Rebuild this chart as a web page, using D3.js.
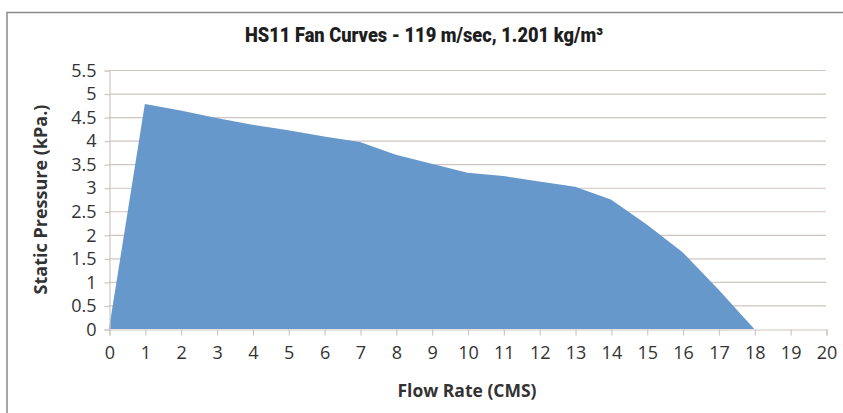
<!DOCTYPE html>
<html>
<head>
<meta charset="utf-8">
<script src="https://cdn.jsdelivr.net/npm/d3@7"></script>
<style>
  html, body { margin: 0; padding: 0; background: #ffffff; }
  svg { display: block; }
</style>
</head>
<body>
<svg id="chart" width="843" height="413"></svg>
<script>
const flowRate = [0, 1, 2, 3, 4, 5, 6, 7, 8, 9, 10, 11, 12, 13, 14, 15, 16, 17, 18];
const staticPressure = [0, 4.78, 4.64, 4.48, 4.34, 4.22, 4.09, 3.97, 3.70, 3.51, 3.32, 3.25, 3.13, 3.02, 2.75, 2.22, 1.63, 0.84, 0];
const xTicks = d3.range(0, 21, 1);
const yTicks = [0, 0.5, 1, 1.5, 2, 2.5, 3, 3.5, 4, 4.5, 5, 5.5];
const titleText = "HS11 Fan Curves - 119 m/sec, 1.201 kg/m³";
const xTitle = "Flow Rate (CMS)";
const yTitle = "Static Pressure (kPa.)";

const svg = d3.select("#chart");
const W = 843, H = 413;

// outer border
svg.append("rect")
  .attr("x", 7).attr("y", 12.5)
  .attr("width", W + 10).attr("height", H + 10)
  .attr("fill", "#ffffff")
  .attr("stroke", "#8a8a8a").attr("stroke-width", 1.5);

const x = d3.scaleLinear().domain([0, 20]).range([109, 826]);
const y = d3.scaleLinear().domain([0, 5.5]).range([329, 70]);

const gridColor = "#cfc6c2";

// gridlines
svg.append("g")
  .selectAll("line")
  .data(yTicks.filter(d => d > 0))
  .join("line")
  .attr("x1", x(0)).attr("x2", x(20))
  .attr("y1", d => y(d) + 0.5).attr("y2", d => y(d) + 0.5)
  .attr("stroke", gridColor).attr("stroke-width", 1.2);

// area
const area = d3.area()
  .x((d, i) => x(flowRate[i]))
  .y0(y(0))
  .y1((d, i) => y(staticPressure[i]));
svg.append("path")
  .datum(staticPressure)
  .attr("d", area)
  .attr("fill", "#6798cc");

const tickFont = "'Open Sans', 'DejaVu Sans', sans-serif";

// y axis
const yAxis = d3.axisLeft(y).tickValues(yTicks).tickSize(5).tickPadding(8)
  .tickFormat(d => String(d));
const gy = svg.append("g").attr("transform", `translate(${x(0) + 0.5},0.5)`).call(yAxis);
gy.select(".domain").attr("stroke", gridColor).attr("stroke-width", 1.2);
gy.selectAll(".tick line").attr("stroke", gridColor).attr("stroke-width", 1.2);
gy.selectAll(".tick text")
  .attr("font-family", tickFont).attr("font-size", 18).attr("fill", "#333333");

// x axis
const xAxis = d3.axisBottom(x).tickValues(xTicks).tickSize(6).tickPadding(11)
  .tickFormat(d => String(d));
const gx = svg.append("g").attr("transform", `translate(0.5,${y(0) + 0.5})`).call(xAxis);
gx.select(".domain").attr("stroke", gridColor).attr("stroke-width", 1.2);
gx.selectAll(".tick line").attr("stroke", gridColor).attr("stroke-width", 1.2);
gx.selectAll(".tick text")
  .attr("font-family", tickFont).attr("font-size", 18).attr("fill", "#333333");

// title
svg.append("text")
  .attr("x", 424).attr("y", 42)
  .attr("text-anchor", "middle")
  .attr("font-family", "Roboto, 'Liberation Sans', sans-serif")
  .attr("font-weight", 900)
  .attr("font-size", 20)
  .attr("fill", "#1e1e1e")
  .attr("textLength", 358)
  .attr("lengthAdjust", "spacingAndGlyphs")
  .text(titleText);

// axis titles
svg.append("text")
  .attr("x", 467).attr("y", 397)
  .attr("text-anchor", "middle")
  .attr("font-family", tickFont)
  .attr("font-weight", "bold")
  .attr("font-size", 17.5)
  .attr("fill", "#333333")
  .text(xTitle);

svg.append("text")
  .attr("transform", `translate(47,${(y(0) + y(5.5)) / 2}) rotate(-90)`)
  .attr("text-anchor", "middle")
  .attr("font-family", tickFont)
  .attr("font-weight", "bold")
  .attr("font-size", 18)
  .attr("fill", "#333333")
  .text(yTitle);
</script>
</body>
</html>
